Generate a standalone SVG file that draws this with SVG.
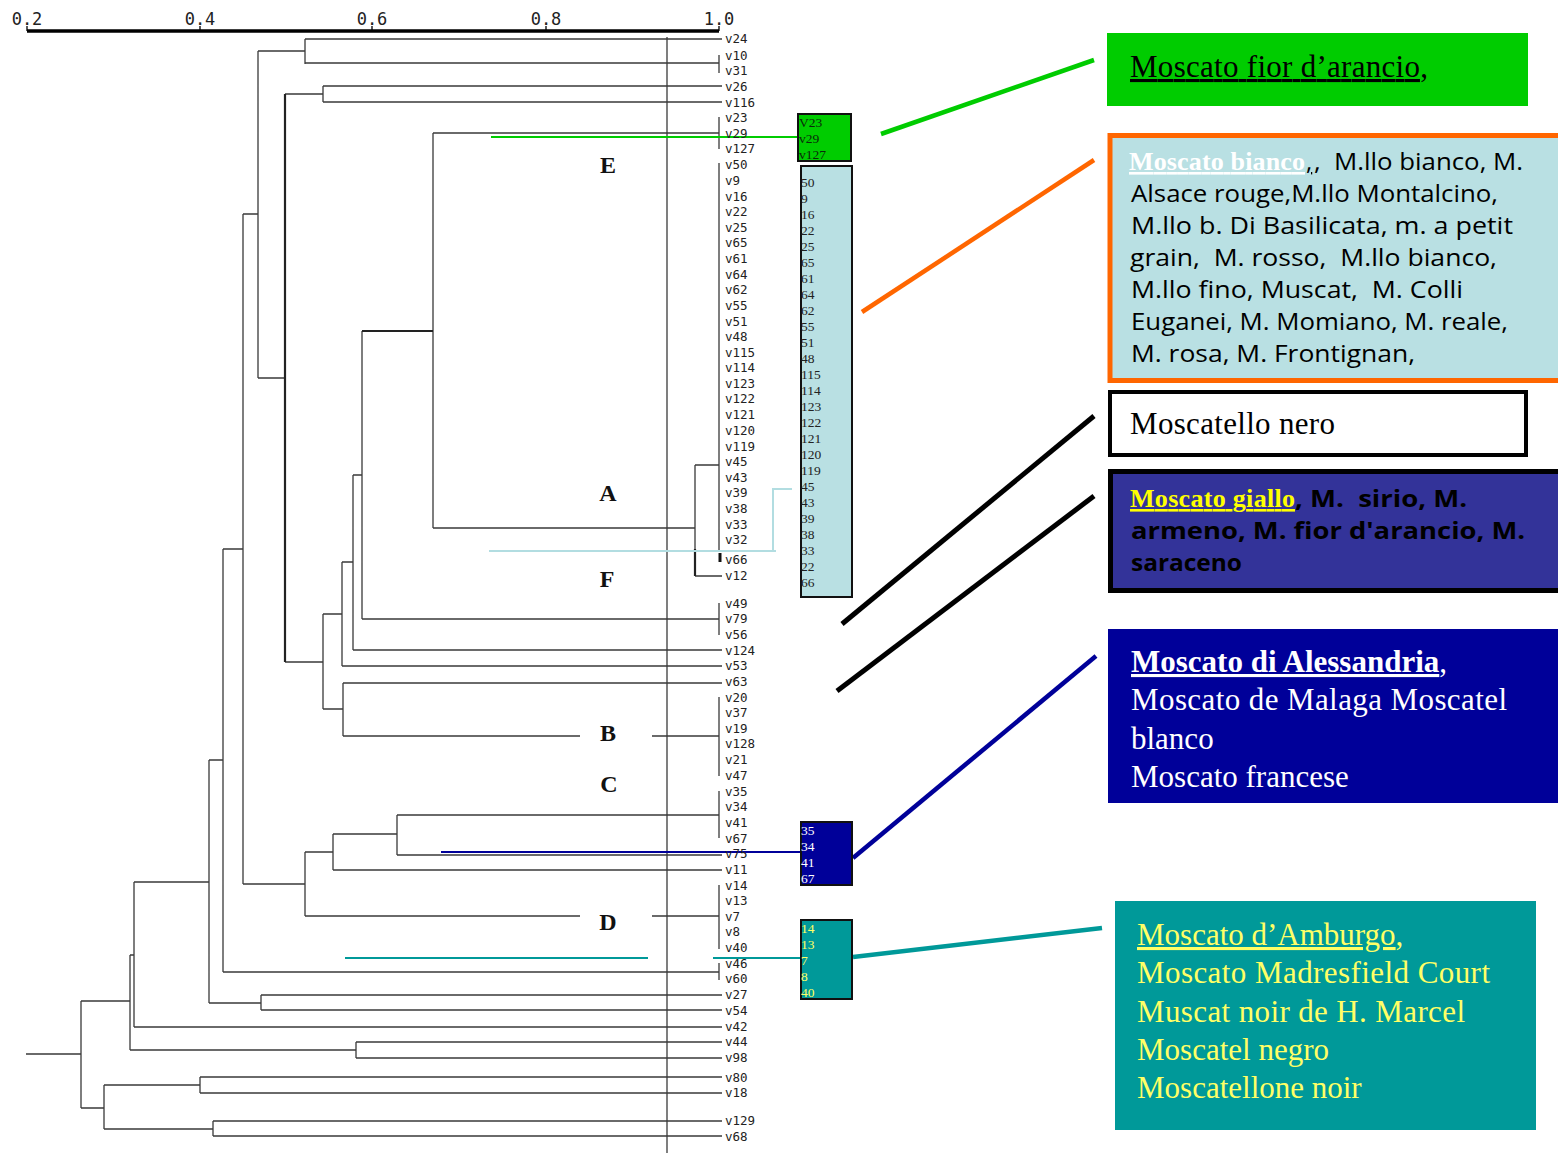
<svg xmlns="http://www.w3.org/2000/svg" width="1558" height="1153" viewBox="0 0 1558 1153">
<style>
.tree{fill:none;stroke:#3a3a3a;stroke-width:1.3}
.thick{fill:none;stroke:#222;stroke-width:2.2}
.leaf{font-family:"DejaVu Sans Mono","Liberation Mono",monospace;font-size:12.5px;fill:#222}
.axl{font-family:"DejaVu Sans Mono","Liberation Mono",monospace;font-size:17px;fill:#222;text-anchor:middle}
.cl{font-family:"Liberation Serif","Times New Roman",serif;font-weight:bold;font-size:24px;fill:#111;text-anchor:middle}
.num{font-family:"Liberation Serif","Times New Roman",serif;font-size:13.5px}
.big{font-family:"Liberation Serif","Times New Roman",serif;font-size:31px}
.comic{font-family:"Open Sans","Noto Sans",sans-serif;font-size:24px}
.u{text-decoration:underline}
</style>

<g id="axis">
<path d="M27 31 H719" stroke="#000" stroke-width="3.5" fill="none"/>
<path d="M27 26 V31 M200 26 V31 M372 26 V31 M546 26 V31 M719 26 V31" stroke="#000" stroke-width="1.3"/>
<text class="axl" x="27" y="25">0.2</text>
<text class="axl" x="200" y="25">0.4</text>
<text class="axl" x="372" y="25">0.6</text>
<text class="axl" x="546" y="25">0.8</text>
<text class="axl" x="719" y="25">1.0</text>
</g>

<g id="connectors">
<path class="tree" d="M667 37 V1153"/>
<path class="tree" d="M305 39 H722 M305 63 H719 M719 55 V73 M305 39 V64 M258 51 H305
M323 86 H722 M323 102 H722 M323 86 V102 M285 94 H323
M258 51 V378 M258 378 H285 M243 214 H258 M243 214 V884
M719 117 V149 M433 133 H719 M433 133 V528 M433 528 H695 M695 465 V576 M695 465 H719 M719 163 V552 M695 576 H722
M362 331 V619 M362 619 H719 M719 603 V635
M353 475 H362 M353 475 V650 M353 650 H722
M342 562 H353 M342 562 V666 M342 666 H722
M323 614 H342 M323 614 V709 M285 662 H323
M323 709 H343 M343 683 V736 M343 683 H722 M343 736 H580 M652 736 H719 M719 697 V776
M397 815 H719 M719 791 V838 M397 815 V855 M397 855 H722
M333 834 H397 M333 834 V870 M333 870 H722
M305 852 H333 M305 852 V916 M305 916 H580 M652 916 H719 M719 885 V949
M243 884 H305
M223 549 H243 M223 549 V972 M223 972 H719 M719 963 V980
M209 760 H223 M209 760 V1003 M209 1003 H261 M261 995 V1010 M261 995 H722 M261 1010 H722
M134 882 H209 M134 882 V1027 M134 1027 H722
M130 955 H134 M130 955 V1050 M130 1050 H356 M356 1042 V1058 M356 1042 H722 M356 1058 H722
M81 1001 H130 M81 1001 V1108 M26 1054 H81
M81 1108 H104 M104 1085 V1129 M104 1085 H200 M200 1077 V1093 M200 1077 H722 M200 1093 H722
M104 1129 H213 M213 1121 V1136 M213 1121 H722 M213 1136 H722"/>
<path class="thick" d="M285 94 V662 M362 331 H433 M695 549 V576"/>
<path d="M720 553 V562" stroke="#111" stroke-width="3"/>
<path d="M491 137 H797" stroke="#00cc00" stroke-width="2" fill="none"/>
<path d="M489 551 H776 M773 551 V489 H792" stroke="#b2dde1" stroke-width="2" fill="none"/>
<path d="M441 852 H802" stroke="#000099" stroke-width="2" fill="none"/>
<path d="M345 958 H648 M713 958 H802" stroke="#009999" stroke-width="2" fill="none"/>
<path d="M881 134 L1094 60" stroke="#00cc00" stroke-width="4.5"/>
<path d="M862 312 L1094 160" stroke="#ff6600" stroke-width="4.5"/>
<path d="M842 624 L1094 416" stroke="#000" stroke-width="5"/>
<path d="M837 691 L1094 496" stroke="#000" stroke-width="5"/>
<path d="M853 858 L1096 656" stroke="#000099" stroke-width="4.5"/>
<path d="M853 957 L1102 928" stroke="#009999" stroke-width="4.5"/>
</g>

<g id="leaves" class="leaf">
<text x="725" y="43">v24</text><text x="725" y="60">v10</text><text x="725" y="75">v31</text>
<text x="725" y="91">v26</text><text x="725" y="107">v116</text><text x="725" y="122">v23</text>
<text x="725" y="138">v29</text><text x="725" y="153">v127</text><text x="725" y="169">v50</text>
<text x="725" y="185">v9</text><text x="725" y="201">v16</text><text x="725" y="216">v22</text>
<text x="725" y="232">v25</text><text x="725" y="247">v65</text><text x="725" y="263">v61</text>
<text x="725" y="279">v64</text><text x="725" y="294">v62</text><text x="725" y="310">v55</text>
<text x="725" y="326">v51</text><text x="725" y="341">v48</text><text x="725" y="357">v115</text>
<text x="725" y="372">v114</text><text x="725" y="388">v123</text><text x="725" y="403">v122</text>
<text x="725" y="419">v121</text><text x="725" y="435">v120</text><text x="725" y="451">v119</text>
<text x="725" y="466">v45</text><text x="725" y="482">v43</text><text x="725" y="497">v39</text>
<text x="725" y="513">v38</text><text x="725" y="529">v33</text><text x="725" y="544">v32</text>
<text x="725" y="564">v66</text><text x="725" y="580">v12</text><text x="725" y="608">v49</text>
<text x="725" y="623">v79</text><text x="725" y="639">v56</text><text x="725" y="655">v124</text>
<text x="725" y="670">v53</text><text x="725" y="686">v63</text><text x="725" y="702">v20</text>
<text x="725" y="717">v37</text><text x="725" y="733">v19</text><text x="725" y="748">v128</text>
<text x="725" y="764">v21</text><text x="725" y="780">v47</text><text x="725" y="796">v35</text>
<text x="725" y="811">v34</text><text x="725" y="827">v41</text><text x="725" y="843">v67</text>
<text x="725" y="858">v75</text><text x="725" y="874">v11</text><text x="725" y="890">v14</text>
<text x="725" y="905">v13</text><text x="725" y="921">v7</text><text x="725" y="936">v8</text>
<text x="725" y="952">v40</text><text x="725" y="968">v46</text><text x="725" y="983">v60</text>
<text x="725" y="999">v27</text><text x="725" y="1015">v54</text><text x="725" y="1031">v42</text>
<text x="725" y="1046">v44</text><text x="725" y="1062">v98</text><text x="725" y="1082">v80</text>
<text x="725" y="1097">v18</text><text x="725" y="1125">v129</text><text x="725" y="1141">v68</text>
</g>

<g id="clusters" class="cl">
<text x="608" y="173">E</text>
<text x="608" y="501">A</text>
<text x="607" y="587">F</text>
<text x="608" y="741">B</text>
<text x="609" y="792">C</text>
<text x="608" y="930">D</text>
</g>

<g id="box-green-small">
<rect x="798" y="114" width="53" height="47" fill="#00cc00" stroke="#111" stroke-width="2"/>
<text class="num" fill="#0a2a0a" x="799" y="127">V23</text>
<text class="num" fill="#0a2a0a" x="799" y="143">v29</text>
<text class="num" fill="#0a2a0a" x="799" y="159">v127</text>
</g>

<g id="box-lightblue-small">
<rect x="801" y="166" width="51" height="431" fill="#b9e0e3" stroke="#111" stroke-width="2"/>
<g class="num" fill="#222">
<text x="801" y="187">50</text><text x="801" y="203">9</text><text x="801" y="219">16</text>
<text x="801" y="235">22</text><text x="801" y="251">25</text><text x="801" y="267">65</text>
<text x="801" y="283">61</text><text x="801" y="299">64</text><text x="801" y="315">62</text>
<text x="801" y="331">55</text><text x="801" y="347">51</text><text x="801" y="363">48</text>
<text x="801" y="379">115</text><text x="801" y="395">114</text><text x="801" y="411">123</text>
<text x="801" y="427">122</text><text x="801" y="443">121</text><text x="801" y="459">120</text>
<text x="801" y="475">119</text><text x="801" y="491">45</text><text x="801" y="507">43</text>
<text x="801" y="523">39</text><text x="801" y="539">38</text><text x="801" y="555">33</text>
<text x="801" y="571">22</text><text x="801" y="587">66</text>
</g>
</g>

<g id="box-navy-small">
<rect x="801" y="822" width="51" height="63" fill="#000099" stroke="#111" stroke-width="2"/>
<g class="num" fill="#fff">
<text x="801" y="835">35</text><text x="801" y="851">34</text><text x="801" y="867">41</text><text x="801" y="883">67</text>
</g>
</g>

<g id="box-teal-small">
<rect x="801" y="920" width="51" height="79" fill="#009999" stroke="#111" stroke-width="2"/>
<g class="num" fill="#ffff66">
<text x="801" y="933">14</text><text x="801" y="949">13</text><text x="801" y="965">7</text><text x="801" y="981">8</text><text x="801" y="997">40</text>
</g>
</g>

<g id="desc-fior">
<rect x="1107" y="33" width="421" height="73" fill="#00cc00"/>
<text class="big u" x="1130" y="77" fill="#000" textLength="298">Moscato fior d’arancio,</text>
</g>

<g id="desc-bianco">
<rect x="1110" y="135.5" width="460" height="245" fill="#b9e0e3" stroke="#ff6600" stroke-width="5"/>
<text class="u" x="1129" y="170" font-family="Liberation Serif, serif" font-weight="bold" font-size="26" fill="#fff" textLength="176">Moscato bianco</text>
<text class="comic u" x="1306" y="170" fill="#000">,</text>
<text class="comic" x="1314" y="170" fill="#000" textLength="209" lengthAdjust="spacingAndGlyphs" xml:space="preserve">,  M.llo bianco, M.</text>
<g class="comic" fill="#000">
<text x="1131" y="202" textLength="367" lengthAdjust="spacingAndGlyphs">Alsace rouge,M.llo Montalcino,</text>
<text x="1131" y="234" textLength="382" lengthAdjust="spacingAndGlyphs">M.llo b. Di Basilicata, m. a petit</text>
<text x="1130" y="266" textLength="367" lengthAdjust="spacingAndGlyphs" xml:space="preserve">grain,  M. rosso,  M.llo bianco,</text>
<text x="1131" y="298" textLength="332" lengthAdjust="spacingAndGlyphs" xml:space="preserve">M.llo fino, Muscat,  M. Colli</text>
<text x="1131" y="330" textLength="377" lengthAdjust="spacingAndGlyphs">Euganei, M. Momiano, M. reale,</text>
<text x="1131" y="362" textLength="284" lengthAdjust="spacingAndGlyphs">M. rosa, M. Frontignan,</text>
</g>
</g>

<g id="desc-nero">
<rect x="1110" y="392" width="416" height="63" fill="#fff" stroke="#000" stroke-width="4"/>
<text class="big" x="1130" y="434" fill="#000" textLength="205">Moscatello nero</text>
</g>

<g id="desc-giallo">
<rect x="1110.5" y="471.5" width="460" height="119" fill="#333399" stroke="#000" stroke-width="5"/>
<text class="u" x="1130" y="507" font-family="Liberation Serif, serif" font-weight="bold" font-size="26" fill="#ffff00" textLength="165">Moscato giallo</text>
<g class="comic" font-weight="bold" fill="#000">
<text x="1295" y="507" textLength="172" lengthAdjust="spacingAndGlyphs" xml:space="preserve">, M.  sirio, M.</text>
<text x="1131" y="539" textLength="394" lengthAdjust="spacingAndGlyphs">armeno, M. fior d'arancio, M.</text>
<text x="1131" y="571" textLength="111" lengthAdjust="spacingAndGlyphs">saraceno</text>
</g>
</g>

<g id="desc-alessandria">
<rect x="1108" y="629" width="460" height="174" fill="#000099"/>
<g class="big" fill="#fff">
<text x="1131" y="672"><tspan class="u" font-weight="bold">Moscato di Alessandria</tspan>,</text>
<text x="1131" y="710" textLength="376">Moscato de Malaga Moscatel</text>
<text x="1131" y="749">blanco</text>
<text x="1131" y="787">Moscato francese</text>
</g>
</g>

<g id="desc-amburgo">
<rect x="1115" y="901" width="421" height="229" fill="#009999"/>
<g class="big" fill="#ffff66">
<text x="1137" y="945"><tspan class="u">Moscato d’Amburgo</tspan>,</text>
<text x="1137" y="983" textLength="353">Moscato Madresfield Court</text>
<text x="1137" y="1022" textLength="328">Muscat noir de H. Marcel</text>
<text x="1137" y="1060">Moscatel negro</text>
<text x="1137" y="1098">Moscatellone noir</text>
</g>
</g>
</svg>
